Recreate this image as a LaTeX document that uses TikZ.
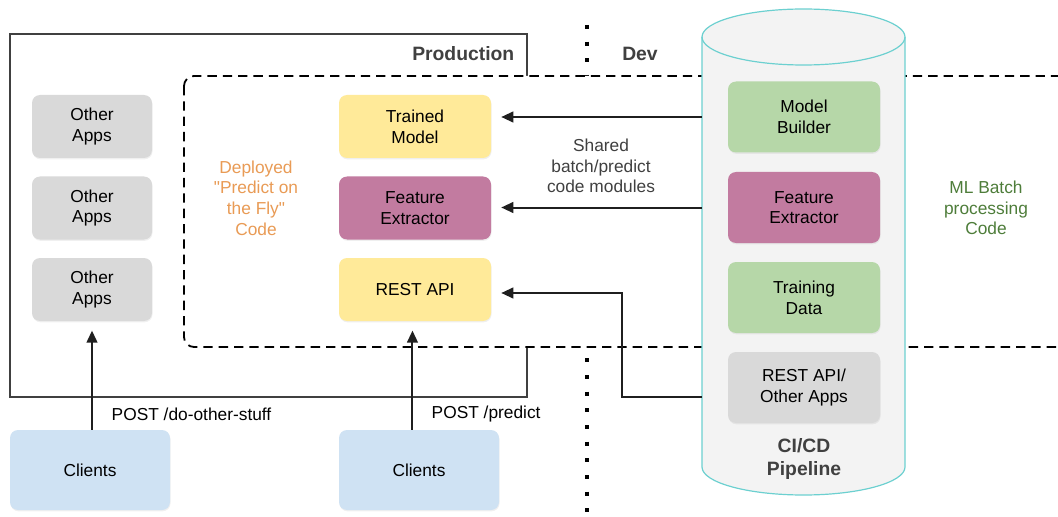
\documentclass[tikz,border=0pt]{standalone}
\usepackage{fontspec}
\setmainfont{Liberation Sans}[Ligatures=TeXOff]
\usetikzlibrary{arrows.meta,shadows}
\definecolor{boxgray}{HTML}{D9D9D9}
\definecolor{boxyellow}{HTML}{FFEA99}
\definecolor{boxmauve}{HTML}{C27BA0}
\definecolor{boxgreen}{HTML}{B6D7A8}
\definecolor{boxblue}{HTML}{CFE2F3}
\definecolor{cylfill}{HTML}{F3F3F3}
\definecolor{cylline}{HTML}{6CD0D0}
\definecolor{labelgray}{HTML}{404040}
\definecolor{deployorange}{HTML}{E99B55}
\definecolor{mlgreen}{HTML}{4E7D3A}
\tikzset{
  txt/.style={font=\fontsize{13}{15.5}\selectfont, align=center},
  btxt/.style={font=\fontsize{14.5}{17}\selectfont\bfseries, align=center, text=labelgray},
  box/.style={txt, rounded corners=6pt, inner sep=0pt, draw=none,
    drop shadow={opacity=0.12, shadow xshift=0.4pt, shadow yshift=-1pt}},
  smallbox/.style={box, minimum width=90pt, minimum height=47.25pt},
  midbox/.style={box, minimum width=114pt, minimum height=47.25pt},
  cylbox/.style={box, minimum width=114pt, minimum height=53.25pt},
  clientbox/.style={box, minimum width=120pt, minimum height=60pt, fill=boxblue},
  arr/.style={-{Triangle[length=9pt,width=8pt]}, line width=1.5pt, black!88},
}
\begin{document}
\begin{tikzpicture}[x=0.75pt,y=0.75pt]
\useasboundingbox (0,0) rectangle (1058,-517);
\clip (0,0) rectangle (1058,-517);

% Production frame
\draw[line width=0.9pt, black!75] (10,-34) rectangle (527,-397);
\node[btxt, anchor=east] (prod) at (519,-54) {Production};

% dotted divider
\draw[line width=3pt, dash pattern=on 3pt off 9.5pt] (586.5,-25) -- (586.5,-517);
\node[btxt] (dev) at (640,-54) {Dev};

% dashed region
\draw[fill=white, line width=1.35pt, dash pattern=on 7pt off 4.5pt, rounded corners=7.5pt]
  (184,-76) rectangle (1068,-347);

% cylinder (CI/CD pipeline)
\node[minimum width=152.25pt, minimum height=342pt, inner sep=0pt] (cicd) at (803.5,-252) {};
\draw[fill=cylfill, draw=cylline, line width=0.9pt]
  (702,-37) -- (702,-467) arc[start angle=180, end angle=360, x radius=76.125pt, y radius=21pt]
  -- (905,-37) arc[start angle=0, end angle=180, x radius=76.125pt, y radius=21pt] -- cycle;
\draw[draw=cylline, line width=0.9pt]
  (702,-37) arc[start angle=180, end angle=360, x radius=76.125pt, y radius=21pt];

% left column
\node[smallbox, fill=boxgray] (oa1) at (92,-126.5) {Other\\Apps};
\node[smallbox, fill=boxgray] (oa2) at (92,-208) {Other\\Apps};
\node[smallbox, fill=boxgray] (oa3) at (92,-289.5) {Other\\Apps};

% deployed code
\node[txt, text=deployorange] (deploy) at (256,-198) {Deployed\\"Predict on\\the Fly"\\Code};
\node[midbox, fill=boxyellow] (tm) at (415,-126.5) {Trained\\Model};
\node[midbox, fill=boxmauve] (fe) at (415,-208) {Feature\\Extractor};
\node[midbox, fill=boxyellow] (rest) at (415,-289.5) {REST API};

% cylinder content
\node[cylbox, fill=boxgreen] (mb) at (804,-117) {Model\\Builder};
\node[cylbox, fill=boxmauve] (fe2) at (804,-207.5) {Feature\\Extractor};
\node[cylbox, fill=boxgreen] (td) at (804,-297.5) {Training\\Data};
\node[cylbox, fill=boxgray] (ra) at (804,-387.5) {REST API/\\Other Apps};
\node[btxt] (cicdlbl) at (804,-459) {CI/CD\\Pipeline};

% texts
\node[txt, text=labelgray] (shared) at (601,-166) {Shared\\batch/predict\\code modules};
\node[txt, text=mlgreen] (ml) at (986,-208) {ML Batch\\processing\\Code};

% clients
\node[clientbox] (cl1) at (90,-470) {Clients};
\node[clientbox] (cl2) at (419,-470) {Clients};

% arrows from pipeline
\draw[arr] (cicd.west |- mb.center) -- ([xshift=7.5pt]tm.east |- mb.center);
\draw[arr] (cicd.west |- fe2.center) -- ([xshift=7.5pt]fe.east |- fe2.center);
\coordinate (bend) at (622,-293);
\coordinate (rafrom) at (702,-397);
\draw[arr] (rafrom) -| (bend) -- ([xshift=7.5pt]rest.east |- bend);

% client arrows
\draw[arr] (cl1.north -| oa3.south) -- ([yshift=-7pt]oa3.south);
\draw[arr] ([xshift=-1.9pt]cl2.north -| rest.south) -- ([xshift=-1.9pt,yshift=-7pt]rest.south);
\node[txt, anchor=west] (post1) at (107,-414) {POST /do-other-stuff};
\node[txt, anchor=west] (post2) at (427,-414) {POST /predict};
\end{tikzpicture}
\end{document}
